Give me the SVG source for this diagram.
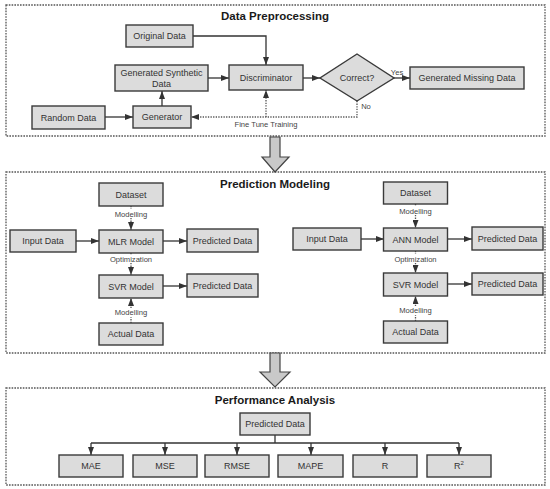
<svg xmlns="http://www.w3.org/2000/svg" width="550" height="489" viewBox="0 0 550 489">
<style>
.sec{fill:none;stroke:#555;stroke-width:1.3;stroke-dasharray:1.6 1.2}
.box{fill:#dcdcdc;stroke:#3a3a3a;stroke-width:1.4}
.t{font-family:"Liberation Sans",Arial,sans-serif;font-size:9px;fill:#333;text-anchor:middle;dominant-baseline:central}
.title{font-family:"Liberation Sans",Arial,sans-serif;font-size:11.5px;font-weight:bold;fill:#1a1a1a;text-anchor:middle}
.s{font-family:"Liberation Sans",Arial,sans-serif;font-size:7.6px;fill:#444;text-anchor:middle;dominant-baseline:central}
.ln{fill:none;stroke:#333;stroke-width:1.3}
.dl{fill:none;stroke:#555;stroke-width:1.3;stroke-dasharray:1.3 1.3}
.big{fill:#c9c9c9;stroke:#444;stroke-width:1.2}
</style>
<defs>
<marker id="ah" viewBox="0 0 8 6" refX="8" refY="3" markerWidth="8" markerHeight="6" markerUnits="userSpaceOnUse" orient="auto">
<path d="M0,0 L8,3 L0,6 z" fill="#333"/>
</marker>
</defs>
<rect width="550" height="489" fill="#fff"/>

<!-- sections -->
<g id="sections">
<rect class="sec" x="6" y="5" width="539" height="131"/>
<text class="title" x="275" y="20">Data Preprocessing</text>
<rect class="sec" x="6" y="172" width="539" height="181"/>
<text class="title" x="275" y="188">Prediction Modeling</text>
<rect class="sec" x="6" y="388" width="539" height="97"/>
<text class="title" x="275" y="404">Performance Analysis</text>
<polygon class="big" points="270,137 280,137 280,157 289,157 275,172 262,157 270,157"/>
<polygon class="big" points="270,353 280,353 280,372 290,372 275,387 260,372 270,372"/>
</g>

<!-- connectors -->
<g id="connectors">
<polyline class="ln" points="193,36 266,36 266,65" marker-end="url(#ah)"/>
<line class="ln" x1="208" y1="78" x2="229" y2="78" marker-end="url(#ah)"/>
<line class="ln" x1="162" y1="106" x2="162" y2="91" marker-end="url(#ah)"/>
<line class="ln" x1="105" y1="117" x2="133" y2="117" marker-end="url(#ah)"/>
<line class="ln" x1="303" y1="78" x2="320" y2="78" marker-end="url(#ah)"/>
<line class="ln" x1="394" y1="78" x2="410" y2="78" marker-end="url(#ah)"/>
<polyline class="dl" points="357,101 357,117 191,117" marker-end="url(#ah)"/>
<line class="dl" x1="266" y1="117" x2="266" y2="90" marker-end="url(#ah)"/>
<text class="s" x="397" y="72">Yes</text>
<text class="s" x="366" y="106">No</text>
<text class="s" x="266" y="124">Fine Tune Training</text>

<!-- left prediction -->
<line class="ln" x1="76" y1="241" x2="99" y2="241" marker-end="url(#ah)"/>
<line class="ln" x1="163" y1="241" x2="187" y2="241" marker-end="url(#ah)"/>
<line class="ln" x1="163" y1="286" x2="187" y2="286" marker-end="url(#ah)"/>
<line class="dl" x1="131" y1="206" x2="131" y2="209"/>
<line class="dl" x1="131" y1="218" x2="131" y2="230" marker-end="url(#ah)"/>
<text class="s" x="131" y="214">Modelling</text>
<line class="dl" x1="131" y1="253" x2="131" y2="255"/>
<line class="dl" x1="131" y1="263" x2="131" y2="275" marker-end="url(#ah)"/>
<text class="s" x="131" y="259">Optimization</text>
<line class="dl" x1="131" y1="323" x2="131" y2="317"/>
<line class="dl" x1="131" y1="308" x2="131" y2="298" marker-end="url(#ah)"/>
<text class="s" x="131" y="312">Modelling</text>

<!-- right prediction -->
<line class="ln" x1="361" y1="239" x2="384" y2="239" marker-end="url(#ah)"/>
<line class="ln" x1="447" y1="239" x2="472" y2="239" marker-end="url(#ah)"/>
<line class="ln" x1="447" y1="284" x2="472" y2="284" marker-end="url(#ah)"/>
<line class="dl" x1="415.5" y1="204" x2="415.5" y2="206"/>
<line class="dl" x1="415.5" y1="215" x2="415.5" y2="228" marker-end="url(#ah)"/>
<text class="s" x="415.5" y="211">Modelling</text>
<line class="dl" x1="415.5" y1="251" x2="415.5" y2="254"/>
<line class="dl" x1="415.5" y1="263" x2="415.5" y2="273" marker-end="url(#ah)"/>
<text class="s" x="415.5" y="259">Optimization</text>
<line class="dl" x1="415.5" y1="321" x2="415.5" y2="315"/>
<line class="dl" x1="415.5" y1="306" x2="415.5" y2="296" marker-end="url(#ah)"/>
<text class="s" x="415.5" y="310">Modelling</text>

<!-- performance -->
<line class="ln" x1="275" y1="435" x2="275" y2="443"/>
<line class="ln" x1="91" y1="443" x2="459" y2="443"/>
<line class="ln" x1="91" y1="443" x2="91" y2="455" marker-end="url(#ah)"/>
<line class="ln" x1="165" y1="443" x2="165" y2="455" marker-end="url(#ah)"/>
<line class="ln" x1="237" y1="443" x2="237" y2="455" marker-end="url(#ah)"/>
<line class="ln" x1="311" y1="443" x2="311" y2="455" marker-end="url(#ah)"/>
<line class="ln" x1="385" y1="443" x2="385" y2="455" marker-end="url(#ah)"/>
<line class="ln" x1="459" y1="443" x2="459" y2="455" marker-end="url(#ah)"/>
</g>

<!-- nodes: preprocessing -->
<g id="original-data"><rect class="box" x="126" y="25" width="67" height="22"/><text class="t" x="159.5" y="36">Original Data</text></g>
<g id="generated-synthetic"><rect class="box" x="115" y="65" width="93" height="26"/><text class="t" x="161.5" y="73">Generated Synthetic</text><text class="t" x="161.5" y="84">Data</text></g>
<g id="discriminator"><rect class="box" x="229" y="65" width="74" height="25"/><text class="t" x="266" y="77.5">Discriminator</text></g>
<g id="random-data"><rect class="box" x="32" y="106" width="73" height="23"/><text class="t" x="68.5" y="117.5">Random Data</text></g>
<g id="generator"><rect class="box" x="133" y="106" width="58" height="22"/><text class="t" x="162" y="117">Generator</text></g>
<g id="correct"><polygon class="box" points="357,54 394,78 357,101 320,78"/><text class="t" x="357" y="78">Correct?</text></g>
<g id="missing-data"><rect class="box" x="410" y="67" width="114" height="22"/><text class="t" x="467" y="78">Generated Missing Data</text></g>

<!-- nodes: prediction left -->
<g id="dataset-l"><rect class="box" x="99" y="183" width="64" height="23"/><text class="t" x="131" y="194.5">Dataset</text></g>
<g id="input-l"><rect class="box" x="10" y="230" width="66" height="22"/><text class="t" x="43" y="241">Input Data</text></g>
<g id="mlr"><rect class="box" x="99" y="230" width="64" height="23"/><text class="t" x="131" y="241.5">MLR Model</text></g>
<g id="pred-l1"><rect class="box" x="187" y="229" width="71" height="23"/><text class="t" x="222.5" y="240.5">Predicted Data</text></g>
<g id="svr-l"><rect class="box" x="99" y="275" width="64" height="23"/><text class="t" x="131" y="286.5">SVR Model</text></g>
<g id="pred-l2"><rect class="box" x="187" y="274" width="71" height="23"/><text class="t" x="222.5" y="285.5">Predicted Data</text></g>
<g id="actual-l"><rect class="box" x="99" y="323" width="64" height="22"/><text class="t" x="131" y="334">Actual Data</text></g>

<!-- nodes: prediction right -->
<g id="dataset-r"><rect class="box" x="383.5" y="182" width="64" height="22"/><text class="t" x="415.5" y="193">Dataset</text></g>
<g id="input-r"><rect class="box" x="293" y="228" width="68" height="22"/><text class="t" x="327" y="239">Input Data</text></g>
<g id="ann"><rect class="box" x="383.5" y="228" width="64" height="23"/><text class="t" x="415.5" y="239.5">ANN Model</text></g>
<g id="pred-r1"><rect class="box" x="472" y="227" width="71" height="23"/><text class="t" x="507.5" y="238.5">Predicted Data</text></g>
<g id="svr-r"><rect class="box" x="383.5" y="273" width="64" height="23"/><text class="t" x="415.5" y="284.5">SVR Model</text></g>
<g id="pred-r2"><rect class="box" x="472" y="273" width="71" height="22"/><text class="t" x="507.5" y="284">Predicted Data</text></g>
<g id="actual-r"><rect class="box" x="383.5" y="321" width="64" height="22"/><text class="t" x="415.5" y="332">Actual Data</text></g>

<!-- nodes: performance -->
<g id="pred-perf"><rect class="box" x="240" y="413" width="70" height="22"/><text class="t" x="275" y="424">Predicted Data</text></g>
<g id="mae"><rect class="box" x="59" y="455" width="64" height="22"/><text class="t" x="91" y="466">MAE</text></g>
<g id="mse"><rect class="box" x="133" y="455" width="64" height="22"/><text class="t" x="165" y="466">MSE</text></g>
<g id="rmse"><rect class="box" x="205" y="455" width="64" height="22"/><text class="t" x="237" y="466">RMSE</text></g>
<g id="mape"><rect class="box" x="278" y="455" width="65" height="22"/><text class="t" x="310.5" y="466">MAPE</text></g>
<g id="r"><rect class="box" x="353" y="455" width="64" height="22"/><text class="t" x="385" y="466">R</text></g>
<g id="r2"><rect class="box" x="427" y="455" width="64" height="22"/><text class="t" x="459" y="466">R<tspan font-size="6" dy="-3">2</tspan></text></g>
</svg>
